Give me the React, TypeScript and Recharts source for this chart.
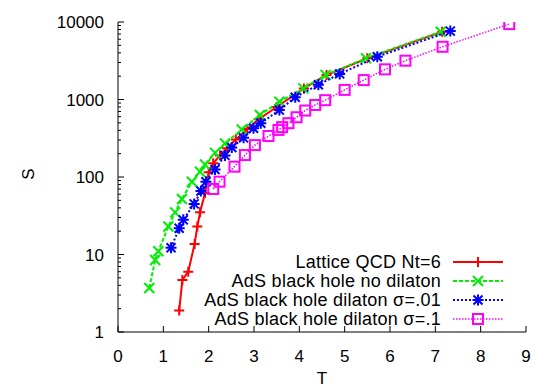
import { Legend, Scatter, ScatterChart, XAxis, YAxis } from 'recharts'

// entropy S vs temperature T
const latticeT = [1.35, 1.42, 1.55, 1.69, 1.75, 1.81, 1.92, 2.0, 2.1, 2.25, 2.4, 2.6, 2.85, 3.1, 3.5, 4.1, 4.6, 5.5, 7.15]
const latticeS = [1.9, 4.7, 6.0, 13.7, 23, 35, 62, 115, 150, 190, 235, 305, 415, 555, 800, 1390, 2070, 3400, 7500]

const noDilatonT = [0.69, 0.82, 0.89, 1.11, 1.26, 1.41, 1.63, 1.81, 1.92, 2.14, 2.36, 2.73, 3.13, 3.56, 4.09, 4.58, 5.47, 7.12]
const noDilatonS = [3.7, 8.5, 11, 23, 35, 52, 87, 117, 145, 205, 270, 410, 630, 935, 1390, 2070, 3400, 7500]

const sigma01T = [1.17, 1.35, 1.44, 1.68, 1.83, 1.94, 2.14, 2.36, 2.51, 2.77, 2.99, 3.15, 3.56, 3.91, 4.42, 4.89, 5.72, 7.33]
const sigma01S = [12.2, 21.8, 28, 45, 66, 87, 125, 190, 240, 320, 425, 495, 730, 1070, 1550, 2140, 3560, 7630]

const sigma1T = [2.1, 2.24, 2.57, 2.8, 3.02, 3.32, 3.54, 3.62, 3.76, 3.94, 4.13, 4.35, 4.57, 5.0, 5.42, 5.89, 6.34, 7.16, 8.63]
const sigma1S = [70, 87, 136, 192, 258, 338, 405, 440, 495, 590, 720, 850, 980, 1330, 1780, 2450, 3170, 4790, 9400]

const xTicks = [0, 1, 2, 3, 4, 5, 6, 7, 8, 9]
const yMajor = [1, 10, 100, 1000, 10000]
const yTicks = yMajor.flatMap((d) => (d === 10000 ? [d] : [1, 2, 3, 4, 5, 6, 7, 8, 9].map((m) => m * d)))

const toPoints = (ts: number[], ss: number[]) => ts.map((t, i) => ({ t, s: ss[i] }))

const FONT = '"Liberation Sans", Arial, Helvetica, sans-serif'

type MarkerProps = { cx: number; cy: number; color: string }

function PlusMark({ cx, cy, color }: MarkerProps) {
  return <path d={`M${cx - 5},${cy}h10M${cx},${cy - 5}v10`} stroke={color} strokeWidth={2} fill="none" />
}
function CrossMark({ cx, cy, color }: MarkerProps) {
  return <path d={`M${cx - 5},${cy - 5}l10,10M${cx - 5},${cy + 5}l10,-10`} stroke={color} strokeWidth={2} fill="none" />
}
function StarMark({ cx, cy, color }: MarkerProps) {
  return (
    <path
      d={`M${cx - 5.5},${cy}h11M${cx},${cy - 5.5}v11M${cx - 4.5},${cy - 4.5}l9,9M${cx - 4.5},${cy + 4.5}l9,-9`}
      stroke={color}
      strokeWidth={2}
      fill="none"
    />
  )
}
function SquareMark({ cx, cy, color }: MarkerProps) {
  return <rect x={cx - 5} y={cy - 5} width={10} height={10} stroke={color} strokeWidth={2} fill="none" />
}

const series = [
  { name: 'Lattice QCD Nt=6', color: '#ff0000', dash: undefined, width: 2, Marker: PlusMark, data: toPoints(latticeT, latticeS) },
  { name: 'AdS black hole no dilaton', color: '#00ee00', dash: '4 2', width: 2, Marker: CrossMark, data: toPoints(noDilatonT, noDilatonS) },
  { name: 'AdS black hole dilaton σ=.01', color: '#0000ff', dash: '2 2', width: 2, Marker: StarMark, data: toPoints(sigma01T, sigma01S) },
  { name: 'AdS black hole dilaton σ=.1', color: '#ff00ff', dash: '1.5 1.5', width: 1.5, Marker: SquareMark, data: toPoints(sigma1T, sigma1S) },
]

function BottomTick({ x, y, payload }: any) {
  return (
    <g>
      <line x1={x} x2={x} y1={y} y2={y - 6} stroke="#000" />
      <text x={x} y={y + 30} textAnchor="middle" fontSize={17} fill="#000" fontFamily={FONT}>
        {payload.value}
      </text>
    </g>
  )
}
function TopTick({ x, y }: any) {
  return <line x1={x} x2={x} y1={y} y2={y + 6} stroke="#000" />
}
function LeftTick({ x, y, payload }: any) {
  const major = yMajor.includes(payload.value)
  return (
    <g>
      <line x1={x} x2={x + (major ? 6 : 3)} y1={y} y2={y} stroke="#000" />
      {major && (
        <text x={x - 14} y={y} dy="0.36em" textAnchor="end" fontSize={17} fill="#000" fontFamily={FONT}>
          {payload.value}
        </text>
      )}
    </g>
  )
}
function RightTick({ x, y, payload }: any) {
  const major = yMajor.includes(payload.value)
  return <line x1={x} x2={x - (major ? 6 : 3)} y1={y} y2={y} stroke="#000" />
}

function LegendBox() {
  return (
    <svg width={320} height={80} style={{ overflow: 'visible' }}>
      {series.map((s, i) => {
        const cy = 12 + i * 19
        const M = s.Marker
        return (
          <g key={s.name}>
            <text x={241} y={cy} dy="0.36em" textAnchor="end" fontSize={18} letterSpacing={0.25} fill="#000" fontFamily={FONT}>
              {s.name}
            </text>
            <line x1={253} x2={303} y1={cy} y2={cy} stroke={s.color} strokeWidth={s.width} strokeDasharray={s.dash} />
            <M cx={278} cy={cy} color={s.color} />
          </g>
        )
      })}
    </svg>
  )
}

export default function App() {
  return (
    <div style={{ position: 'absolute', left: 0, top: 0, width: 554, height: 388, background: '#fff' }}>
      <ScatterChart width={554} height={388} margin={{ top: 22, right: 28, bottom: 0, left: 0 }} style={{ fontFamily: FONT }}>
        <XAxis
          xAxisId="b"
          dataKey="t"
          type="number"
          domain={[0, 9]}
          ticks={xTicks}
          interval={0}
          allowDataOverflow
          height={56}
          tickSize={0}
          tickMargin={0}
          tickLine={false}
          tick={<BottomTick />}
          axisLine={{ stroke: '#000' }}
          label={({ viewBox }: any) => (
            <text x={viewBox.x + viewBox.width / 2} y={viewBox.y + viewBox.height - 4} textAnchor="middle" fontSize={17} fontFamily={FONT}>
              T
            </text>
          )}
        />
        <XAxis
          xAxisId="t"
          orientation="top"
          type="number"
          domain={[0, 9]}
          ticks={xTicks}
          interval={0}
          allowDataOverflow
          height={0}
          tickSize={0}
          tickMargin={0}
          tickLine={false}
          tick={<TopTick />}
          axisLine={{ stroke: '#000' }}
        />
        <YAxis
          yAxisId="l"
          dataKey="s"
          type="number"
          scale="log"
          domain={[1, 10000]}
          ticks={yTicks}
          interval={0}
          allowDataOverflow
          width={118}
          tickSize={0}
          tickMargin={0}
          tickLine={false}
          tick={<LeftTick />}
          axisLine={{ stroke: '#000' }}
          label={({ viewBox }: any) => (
            <text
              x={28}
              y={viewBox.y + viewBox.height / 2 - 3}
              textAnchor="middle"
              dy="0.36em"
              fontSize={17}
              fontFamily={FONT}
              transform={`rotate(-90 28 ${viewBox.y + viewBox.height / 2 - 3})`}
            >
              S
            </text>
          )}
        />
        <YAxis
          yAxisId="r"
          orientation="right"
          type="number"
          scale="log"
          domain={[1, 10000]}
          ticks={yTicks}
          interval={0}
          allowDataOverflow
          width={0}
          tickSize={0}
          tickMargin={0}
          tickLine={false}
          tick={<RightTick />}
          axisLine={{ stroke: '#000' }}
        />
        {series.map((s) => (
          <Scatter
            key={s.name}
            name={s.name}
            data={s.data}
            xAxisId="b"
            yAxisId="l"
            fill={s.color}
            line={{ stroke: s.color, strokeWidth: s.width, strokeDasharray: s.dash }}
            lineJointType="linear"
            shape={(p: any) => <s.Marker cx={p.cx} cy={p.cy} color={s.color} />}
            isAnimationActive={false}
          />
        ))}
        <Legend
          layout="horizontal"
          verticalAlign="middle"
          align="center"
          content={() => <LegendBox />}
          wrapperStyle={{ left: 200, top: 250, width: 320, height: 80 }}
        />
      </ScatterChart>
    </div>
  )
}
